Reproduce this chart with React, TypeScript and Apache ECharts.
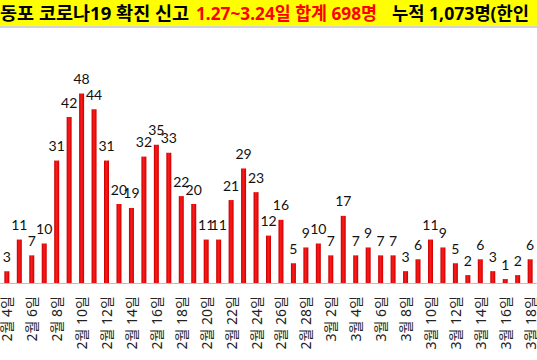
import React, { useEffect, useRef } from "react";
import * as echarts from "echarts";

const categories = [
  "2월 4일", "2월 5일", "2월 6일", "2월 7일", "2월 8일", "2월 9일", "2월 10일", "2월 11일",
  "2월 12일", "2월 13일", "2월 14일", "2월 15일", "2월 16일", "2월 17일", "2월 18일", "2월 19일",
  "2월 20일", "2월 21일", "2월 22일", "2월 23일", "2월 24일", "2월 25일", "2월 26일", "2월 27일",
  "2월 28일", "2월 29일", "3월 2일", "3월 3일", "3월 4일", "3월 5일", "3월 6일", "3월 7일",
  "3월 8일", "3월 9일", "3월 10일", "3월 11일", "3월 12일", "3월 13일", "3월 14일", "3월 15일",
  "3월 16일", "3월 17일", "3월 18일",
];

const cases = [
  3, 11, 7, 10, 31, 42, 48, 44, 31, 20, 19, 32, 35, 33, 22, 20, 11, 11, 21, 29, 23, 12,
  16, 5, 9, 10, 7, 17, 7, 9, 7, 7, 3, 6, 11, 9, 5, 2, 6, 3, 1, 2, 6,
];

const titleBlack1 = "동포 코로나19 확진 신고";
const titleRed = "1.27~3.24일 합계 698명";
const titleBlack2 = "누적 1,073명(한인";

export default function App() {
  const ref = useRef<HTMLDivElement>(null);

  useEffect(() => {
    if (!ref.current) return;
    const chart = echarts.init(ref.current, undefined, { renderer: "svg" });
    const titleFont = {
      fontSize: 18,
      fontWeight: "bold" as const,
      fontFamily: "'Noto Sans', 'Noto Sans CJK KR'",
    };
    chart.setOption({
      animation: false,
      backgroundColor: "#ffffff",
      grid: { left: -5.6, right: -6.1, top: 85.5, bottom: 77, containLabel: false },
      xAxis: {
        type: "category",
        data: categories,
        axisLine: { show: true, lineStyle: { color: "#bfbfbf", width: 1 } },
        axisTick: { show: false },
        axisLabel: {
          interval: 1,
          rotate: 90,
          margin: 13,
          fontSize: 14,
          padding: [5, 0, 0, 0],
          color: "#222222",
          fontFamily: "'Noto Sans', 'Noto Sans CJK KR'",
        },
      },
      yAxis: {
        type: "value",
        min: 0,
        max: 50,
        show: false,
        splitLine: { show: false },
      },
      series: [
        {
          type: "bar",
          data: cases,
          barWidth: 5,
          itemStyle: {
            color: new echarts.graphic.LinearGradient(0, 0, 1, 0, [
              { offset: 0, color: "#c00000" },
              { offset: 0.45, color: "#ff1a1a" },
              { offset: 1, color: "#cc0000" },
            ]),
          },
          label: {
            show: true,
            position: "top",
            distance: 8,
            fontSize: 14,
            color: "#111111",
            fontFamily: "Lato",
          },
        },
      ],
      graphic: [
        {
          type: "rect",
          shape: { x: 0, y: 0, width: 537, height: 26 },
          style: { fill: "#ffff00" },
          silent: true,
        },
        {
          type: "rect",
          shape: { x: 0, y: 26, width: 537, height: 2 },
          style: { fill: "#d4d4d4" },
          silent: true,
        },
        {
          type: "text",
          x: 0,
          y: 13,
          scaleX: 1.03,
          style: { text: titleBlack1, fill: "#000000", ...titleFont, verticalAlign: "middle", align: "left" },
        },
        {
          type: "text",
          x: 196,
          y: 13,
          scaleX: 0.96,
          style: { text: titleRed, fill: "#ff0000", ...titleFont, verticalAlign: "middle", align: "left" },
        },
        {
          type: "text",
          x: 392,
          y: 13,
          scaleX: 0.98,
          style: { text: titleBlack2, fill: "#000000", ...titleFont, verticalAlign: "middle", align: "left" },
        },
      ],
    });
    return () => chart.dispose();
  }, []);

  return (
    <div
      ref={ref}
      style={{ position: "fixed", left: 0, top: 0, width: 537, height: 360 }}
    />
  );
}
